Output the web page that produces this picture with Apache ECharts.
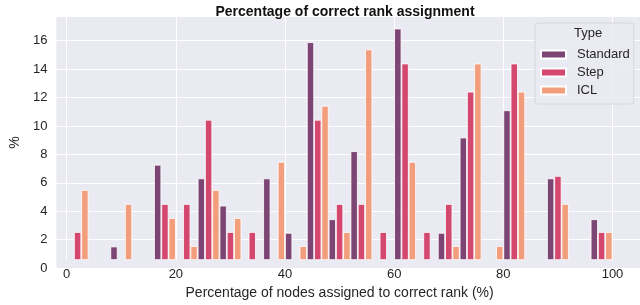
<!DOCTYPE html>
<html>
<head>
<meta charset="utf-8">
<script src="https://cdn.jsdelivr.net/npm/echarts@6/dist/echarts.min.js"></script>
<style>html,body{margin:0;padding:0;background:#fff}#c{width:640px;height:305px}</style>
</head>
<body>
<div id="c"></div>
<script>
// bins of width 4 from 0 to 100 (left edges)
const binEdges = [0,4,8,12,16,20,24,28,32,36,40,44,48,52,56,60,64,68,72,76,80,84,88,92,96];
const xTicks = [0,20,40,60,80,100];
const seriesNames = ['Standard', 'Step', 'ICL'];
const standard = [0,0,0.99,0,6.93,0,5.94,3.96,0,5.94,1.98,15.84,2.97,7.92,0,16.83,0,1.98,8.91,0,10.89,0,5.94,0,2.97];
const step     = [2.04,0,0,0,4.08,4.08,10.2,2.04,2.04,0,0,10.2,4.08,4.08,2.04,14.29,2.04,4.08,12.24,0,14.29,0,6.12,0,2.04];
const icl      = [5.1,0,4.08,0,3.06,1.02,5.1,3.06,0,7.14,1.02,11.22,2.04,15.31,0,7.14,0,1.02,14.29,1.02,12.24,0,4.08,0,2.04];

const font = 'Liberation Sans, Arial, sans-serif';
const tc = '#262626';
const yMax = 17.67;
const G = {top: 17, bottom: 37};
const chart = echarts.init(document.getElementById('c'), null, {renderer: 'canvas'});
const mk = v => v === 0 ? null : v;
const barStyle = c => ({color: c, borderColor: '#ffffff', borderWidth: 0.8});
chart.setOption({
  animation: false,
  backgroundColor: '#ffffff',
  textStyle: {fontFamily: font},
  title: {
    text: 'Percentage of correct rank assignment',
    left: 340, top: 0, textAlign: 'center',
    textStyle: {fontSize: 14, fontWeight: 'bold', color: '#111', fontFamily: font}
  },
  grid: [
    {left: 39.4, right: 0, top: G.top, bottom: G.bottom, show: true, backgroundColor: '#EAEAF2', borderWidth: 0},
    {left: 66.7, width: 545.8, top: G.top, bottom: G.bottom}
  ],
  xAxis: [
    {type: 'value', gridIndex: 0, min: -5, max: 105, show: false},
    {type: 'value', gridIndex: 1, min: xTicks[0], max: xTicks[xTicks.length-1], interval: 20,
     axisLine: {show: false}, axisTick: {show: false},
     splitLine: {show: true, lineStyle: {color: '#ffffff', width: 1}},
     axisLabel: {color: tc, fontSize: 13, margin: 8, fontFamily: font},
     name: 'Percentage of nodes assigned to correct rank (%)', nameLocation: 'middle', nameGap: 23,
     nameTextStyle: {color: tc, fontSize: 14, fontFamily: font}},
    {type: 'category', gridIndex: 1, data: binEdges.map(String), show: false, boundaryGap: true}
  ],
  yAxis: [
    {type: 'value', gridIndex: 0, min: 0, max: yMax, interval: 2,
     axisLine: {show: false}, axisTick: {show: false},
     splitLine: {show: true, showMaxLine: false, lineStyle: {color: '#ffffff', width: 1}},
     axisLabel: {color: tc, fontSize: 13, margin: 9, fontFamily: font, showMaxLabel: false,
                 formatter: v => (Math.abs(v - Math.round(v)) < 1e-6 ? String(Math.round(v)) : '')},
     name: '%', nameLocation: 'middle', nameGap: 28, nameRotate: 90,
     nameTextStyle: {color: tc, fontSize: 14, fontFamily: font}},
    {type: 'value', gridIndex: 1, min: 0, max: yMax, show: false}
  ],
  legend: {
    orient: 'vertical', left: 535, top: 23,
    itemWidth: 25, itemHeight: 8, itemGap: 5,
    padding: [25, 4, 7, 5],
    backgroundColor: 'rgba(234,234,242,0.85)', borderColor: '#d6d6de', borderWidth: 1, borderRadius: 3,
    textStyle: {color: tc, fontSize: 13, fontFamily: font, lineHeight: 13, padding: [0,0,0,6]},
    icon: 'rect',
    data: seriesNames
  },
  graphic: [{
    type: 'text', left: 574, top: 27, z: 100,
    style: {text: 'Type', fill: tc, font: '13px ' + font}
  }],
  series: [
    {name: seriesNames[0], type: 'bar', xAxisIndex: 2, yAxisIndex: 1, data: standard.map(mk),
     barGap: '0%', barCategoryGap: '0%', itemStyle: barStyle('#7c4573')},
    {name: seriesNames[1], type: 'bar', xAxisIndex: 2, yAxisIndex: 1, data: step.map(mk),
     barGap: '0%', barCategoryGap: '0%', itemStyle: barStyle('#d4476e')},
    {name: seriesNames[2], type: 'bar', xAxisIndex: 2, yAxisIndex: 1, data: icl.map(mk),
     barGap: '0%', barCategoryGap: '0%', itemStyle: barStyle('#f29e7c')}
  ]
});
</script>
</body>
</html>
